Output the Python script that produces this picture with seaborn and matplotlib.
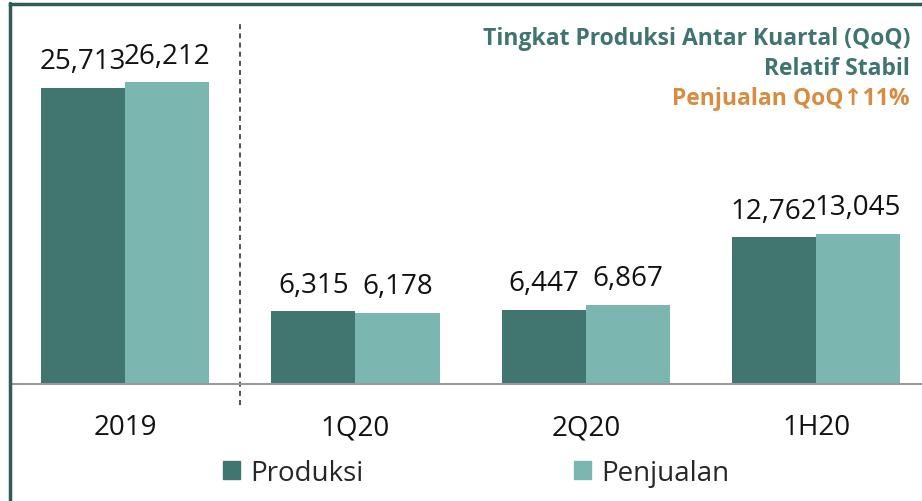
import matplotlib
matplotlib.use('Agg')
import matplotlib.pyplot as plt
from matplotlib.lines import Line2D
import seaborn as sns
import pandas as pd

periods = ['2019', '1Q20', '2Q20', '1H20']
produksi = [25713, 6315, 6447, 12762]
penjualan = [26212, 6178, 6867, 13045]
series_names = ['Produksi', 'Penjualan']
note_lines = ['Tingkat Produksi Antar Kuartal (QoQ)', 'Relatif Stabil', 'Penjualan QoQ\u219111%']

dark_teal = '#417570'
light_teal = '#7bb6b0'
orange = '#d98b3f'

df = pd.DataFrame({
    'period': periods * 2,
    'value': produksi + penjualan,
    'series': [series_names[0]] * len(periods) + [series_names[1]] * len(periods),
})

sns.set_style('white')
plt.rcParams['font.family'] = ['Open Sans', 'DejaVu Sans']

fig = plt.figure(figsize=(9.22, 5.02), dpi=100)
ax = fig.add_axes([10 / 922, 117 / 502, 912 / 922, 380 / 502])

sns.barplot(data=df, x='period', y='value', hue='series', order=periods,
            hue_order=series_names, palette=[dark_teal, light_teal],
            width=0.73, gap=0, saturation=1, linewidth=0, ax=ax, legend=False)

for c in ax.containers:
    ax.bar_label(c, labels=[f'{v:,.0f}' for v in c.datavalues],
                 padding=9, fontsize=20, color='#111111')

ax.set_xlim(-0.5, 3.46)
ax.set_ylim(0, 33000)
ax.set_yticks([])
ax.set_xlabel('')
ax.set_ylabel('')
ax.tick_params(axis='x', length=0, pad=21, labelsize=20, labelcolor='#111111')

for s in ['left', 'right']:
    ax.spines[s].set_visible(False)
ax.spines['top'].set_color('#2f5c59')
ax.spines['top'].set_linewidth(2.5)
ax.spines['bottom'].set_color('#9a9a9a')
ax.spines['bottom'].set_linewidth(1.5)

# divider between full year and quarters
ax.axvline(0.5, ymin=-0.055, ymax=0.947, color='#333333', lw=1.2,
           linestyle=(0, (3, 2.5)), clip_on=False)

# left frame line down to the bottom of the image
fig.add_artist(Line2D([10 / 922, 10 / 922], [0, 1 - 4 / 502],
                      transform=fig.transFigure, color='#2f5c59', lw=2.5))

# note text top right
note_colors = ['#3f7470', '#3f7470', orange]
for i, (txt, col) in enumerate(zip(note_lines, note_colors)):
    fig.text(910 / 922, 1 - (39 + 30 * i) / 502, txt, ha='right', va='center',
             fontsize=16.5, fontweight='bold', color=col)

handles = [plt.Rectangle((0, 0), 1, 1, color=dark_teal),
           plt.Rectangle((0, 0), 1, 1, color=light_teal)]
fig.legend(handles, series_names, loc='center', ncol=2, frameon=False,
           bbox_to_anchor=(476 / 922, 1 - 474 / 502), fontsize=20,
           handlelength=0.62, handleheight=0.62, handletextpad=0.35,
           columnspacing=7.6, borderpad=0)

fig.savefig('out.png', dpi=100)
